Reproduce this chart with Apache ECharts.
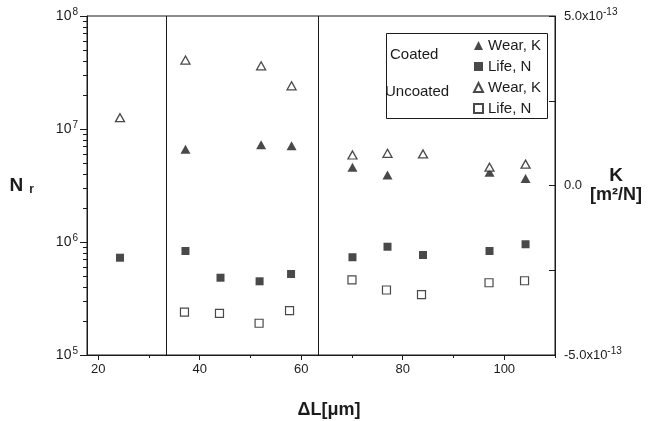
<!DOCTYPE html>
<html>
<head>
<meta charset="utf-8">
<script src="https://cdn.jsdelivr.net/npm/echarts@6/dist/echarts.min.js"></script>
<style>
  html, body { margin: 0; padding: 0; background: #fff; }
  #chart1 { width: 648px; height: 421px; }
</style>
</head>
<body>
<div id="chart1"></div>
<script>
// values
const dividers = [33.4, 63.4];          // vertical separators on the x axis
const xLabelTicks = [20, 40, 60, 80, 100];
const xMinorTicks = [30, 50, 70, 90, 110];
const nDecades = [1e5, 1e6, 1e7, 1e8];
const nMinorTicks = [2e5, 3e5, 4e5, 5e5, 6e5, 7e5, 8e5, 9e5,
                     2e6, 3e6, 4e6, 5e6, 6e6, 7e6, 8e6, 9e6,
                     2e7, 3e7, 4e7, 5e7, 6e7, 7e7, 8e7, 9e7];

// coated: wear K (right axis) and life N (left axis)
const coatedWearX = [37.2, 52.1, 58.1, 70.1, 77.0, 97.1, 104.2];
const coatedWearK = [1.07e-13, 1.20e-13, 1.17e-13, 0.54e-13, 0.31e-13, 0.39e-13, 0.21e-13];
const coatedLifeX = [24.3, 37.2, 44.1, 51.8, 58.0, 70.1, 77.0, 84.0, 97.1, 104.2];
const coatedLifeN = [7.26e5, 8.32e5, 4.83e5, 4.49e5, 5.21e5, 7.33e5, 9.08e5, 7.67e5, 8.32e5, 9.55e5];

// uncoated
const uncoatedWearX = [24.3, 37.2, 52.1, 58.1, 70.1, 77.0, 84.0, 97.1, 104.2];
const uncoatedWearK = [2.00e-13, 3.70e-13, 3.53e-13, 2.94e-13, 0.90e-13, 0.95e-13, 0.93e-13, 0.54e-13, 0.63e-13];
const uncoatedLifeX = [37.0, 43.9, 51.7, 57.7, 70.0, 76.8, 83.7, 97.0, 104.0];
const uncoatedLifeN = [2.40e5, 2.34e5, 1.91e5, 2.47e5, 4.63e5, 3.76e5, 3.42e5, 4.36e5, 4.54e5];

const zip = (xs, ys) => xs.map((x, i) => [x, ys[i]]);
const ink = '#1b1b1b';
const font = 'Liberation Sans, Arial, sans-serif';

const chartDiv = document.getElementById('chart1');
const myChart = echarts.init(chartDiv, null, { renderer: 'canvas' });

const option = {
  animation: false,
  textStyle: { fontFamily: font, color: ink },
  grid: {
    left: 87, right: 93, top: 16, bottom: 66,
    outerBoundsMode: 'none',
    show: true, borderColor: ink, borderWidth: 1
  },
  xAxis: [
    {
      type: 'value', min: 17.8, max: 110,
      name: 'ΔL[μm]', nameLocation: 'middle', nameGap: 46, nameMoveOverlap: false,
      nameTextStyle: { fontSize: 18, fontWeight: 'bold', color: ink, fontFamily: font, padding: [0, 0, 0, 16] },
      axisLine: { onZero: false, lineStyle: { color: ink, width: 1 } },
      axisTick: { customValues: xLabelTicks, length: 5, lineStyle: { color: ink } },
      axisLabel: { customValues: xLabelTicks, fontSize: 13, color: ink, margin: 8, fontFamily: font },
      splitLine: { show: false }
    },
    {
      type: 'value', min: 17.8, max: 110, position: 'bottom',
      axisLine: { show: false, onZero: false },
      axisTick: { customValues: xMinorTicks, length: 3, lineStyle: { color: ink } },
      axisLabel: { show: false },
      splitLine: { show: false }
    }
  ],
  yAxis: [
    {
      type: 'log', logBase: 10, min: 1e5, max: 1e8, position: 'left',
      name: '{n|N}{r|r}', nameLocation: 'middle', nameRotate: 0, nameGap: 53, nameMoveOverlap: false,
      nameTextStyle: {
        rich: {
          n: { fontSize: 19, fontWeight: 'bold', color: ink, fontFamily: font },
          r: { fontSize: 12, fontWeight: 'bold', color: ink, fontFamily: font, padding: [8, 0, 0, 6] }
        }
      },
      axisLine: { show: true, onZero: false, lineStyle: { color: ink, width: 1 } },
      axisTick: { customValues: nDecades, length: 7, lineStyle: { color: ink } },
      axisLabel: {
        customValues: nDecades, margin: 9,
        formatter: v => '{b|10}{s|' + Math.round(Math.log10(v)) + '}',
        rich: {
          b: { fontSize: 14, color: ink, fontFamily: font },
          s: { fontSize: 10, color: ink, fontFamily: font, padding: [0, 0, 8, 1] }
        }
      },
      splitLine: { show: false }
    },
    {
      type: 'value', min: -5e-13, max: 5e-13, interval: 2.5e-13, position: 'right',
      name: '{k|K}\n{u|[m²/N]}', nameLocation: 'middle', nameRotate: 0, nameGap: 35, nameMoveOverlap: false,
      nameTextStyle: {
        rich: {
          k: { fontSize: 19, fontWeight: 'bold', color: ink, fontFamily: font, lineHeight: 19, align: 'center' },
          u: { fontSize: 18, fontWeight: 'bold', color: ink, fontFamily: font, lineHeight: 19, align: 'center' }
        }
      },
      axisLine: { show: true, onZero: false, lineStyle: { color: ink, width: 1 } },
      axisTick: { inside: true, length: 6, lineStyle: { color: ink } },
      axisLabel: {
        margin: 9,
        formatter: v => {
          const m = Math.round(v / 1e-13 * 10) / 10;
          if (m === 0) return '{b|0.0}';
          if (Math.abs(m) !== 5) return '';
          return '{b|' + (m < 0 ? '-' : '') + '5.0x10}{s|-13}';
        },
        rich: {
          b: { fontSize: 13, color: ink, fontFamily: font },
          s: { fontSize: 10, color: ink, fontFamily: font, padding: [0, 0, 8, 0] }
        }
      },
      splitLine: { show: false }
    },
    {
      type: 'log', logBase: 10, min: 1e5, max: 1e8, position: 'left',
      axisLine: { show: false, onZero: false },
      axisTick: { customValues: nMinorTicks, length: 4, lineStyle: { color: ink } },
      axisLabel: { show: false },
      splitLine: { show: false }
    }
  ],
  legend: {
    orient: 'vertical', left: 473, top: 38, padding: 0,
    itemWidth: 9, itemHeight: 9, itemGap: 6,
    textStyle: { fontSize: 15, color: ink, fontFamily: font },
    formatter: name => name.replace(/^(Coated|Uncoated) /, ''),
    data: ['Coated Wear, K', 'Coated Life, N', 'Uncoated Wear, K', 'Uncoated Life, N']
  },
  graphic: [
    { type: 'rect', left: 384, top: 31, shape: { width: 161, height: 85 },
      style: { fill: null, stroke: ink, lineWidth: 1 } },
    { type: 'text', left: 390, top: 47, style: { text: 'Coated', fill: ink, font: '15px ' + font } },
    { type: 'text', left: 385, top: 84, style: { text: 'Uncoated', fill: ink, font: '15px ' + font } }
  ],
  series: [
    {
      name: 'Coated Wear, K', type: 'scatter', yAxisIndex: 1,
      symbol: 'triangle', symbolSize: [10, 9],
      itemStyle: { color: ink },
      data: zip(coatedWearX, coatedWearK),
      markLine: {
        silent: true, symbol: 'none', label: { show: false },
        lineStyle: { color: ink, type: 'solid', width: 1 },
        data: dividers.map(d => ({ xAxis: d }))
      }
    },
    {
      name: 'Coated Life, N', type: 'scatter', yAxisIndex: 0,
      symbol: 'rect', symbolSize: 8,
      itemStyle: { color: ink },
      data: zip(coatedLifeX, coatedLifeN)
    },
    {
      name: 'Uncoated Wear, K', type: 'scatter', yAxisIndex: 1,
      symbol: 'triangle', symbolSize: [9, 8],
      itemStyle: { color: '#fff', borderColor: ink, borderWidth: 1.3 },
      data: zip(uncoatedWearX, uncoatedWearK)
    },
    {
      name: 'Uncoated Life, N', type: 'scatter', yAxisIndex: 0,
      symbol: 'rect', symbolSize: 8,
      itemStyle: { color: '#fff', borderColor: ink, borderWidth: 1.2 },
      data: zip(uncoatedLifeX, uncoatedLifeN)
    }
  ]
};

myChart.setOption(option);
</script>
</body>
</html>
